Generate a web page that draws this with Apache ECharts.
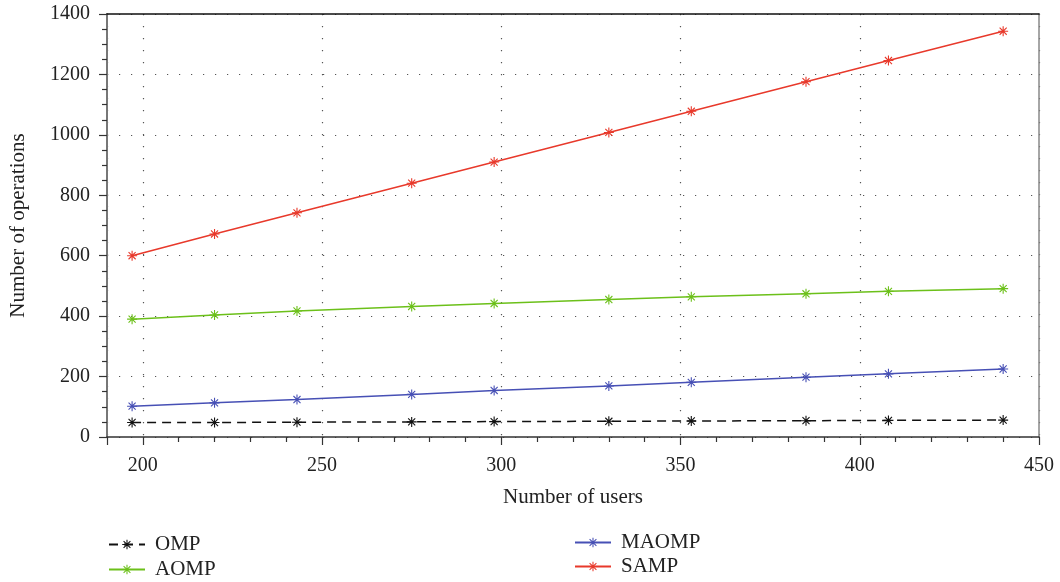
<!DOCTYPE html>
<html>
<head>
<meta charset="utf-8">
<script src="https://cdn.jsdelivr.net/npm/echarts@6/dist/echarts.min.js"></script>
<style>
  html, body { margin: 0; padding: 0; background: #fff; }
  #chart { width: 1060px; height: 582px; }
</style>
</head>
<body>
<div id="chart"></div>
<script>
// Number of users at each measurement
const users = [197, 220, 243, 275, 298, 330, 353, 385, 408, 440];

// Number of operations per algorithm
const ompOps   = [48, 48, 49, 50, 51, 52, 53, 54, 55, 56];
const aompOps  = [390, 404, 417, 432, 442, 455, 464, 474, 482, 491];
const maompOps = [102, 113, 124, 141, 154, 169, 181, 198, 209, 225];
const sampOps  = [600, 672, 742, 840, 910, 1008, 1078, 1176, 1246, 1343];

const seriesNames = ['OMP', 'AOMP', 'MAOMP', 'SAMP'];

// Eight-armed asterisk marker built from four rotated bars
function asteriskPath() {
  const c = 10, half = 10, t = 1.1;
  let d = '';
  for (let k = 0; k < 4; k++) {
    const a = k * Math.PI / 4;
    const ca = Math.cos(a), sa = Math.sin(a);
    const pts = [[-half, -t], [half, -t], [half, t], [-half, t]].map(([x, y]) =>
      [(c + x * ca - y * sa).toFixed(3), (c + x * sa + y * ca).toFixed(3)]);
    d += 'M' + pts.map(p => p.join(' ')).join(' L') + ' Z ';
  }
  return 'path://' + d.trim();
}
const star = asteriskPath();

const font = 'Liberation Serif, DejaVu Serif, serif';
const textColor = '#222';

function pairs(ys) { return users.map((x, i) => [x, ys[i]]); }

function lineSeries(name, ys, color, dashed) {
  return {
    name: name,
    type: 'line',
    data: pairs(ys),
    symbol: star,
    symbolSize: 10,
    showSymbol: true,
    itemStyle: { color: color },
    lineStyle: { color: color, width: 1.5, type: dashed ? [9, 6] : 'solid' },
    emphasis: { disabled: true },
    animation: false
  };
}

// One legend entry per block so the two columns stack exactly
function legendEntry(name, left, top) {
  return {
    data: [name],
    orient: 'vertical',
    left: left,
    top: top,
    itemWidth: 36,
    itemHeight: 12,
    textStyle: { fontFamily: font, fontSize: 21, color: textColor, padding: [0, 0, 0, 5] }
  };
}

const chart = echarts.init(document.getElementById('chart'), null, { renderer: 'canvas' });

const gridDots = { color: '#555', width: 1.2, type: [1.2, 10.8] };

chart.setOption({
  backgroundColor: '#fff',
  animation: false,
  grid: { left: 107, right: 21, top: 14, bottom: 145, containLabel: false },
  xAxis: [
    {
      type: 'value',
      min: 190,
      max: 450,
      splitNumber: 5,
      name: 'Number of users',
      nameLocation: 'middle',
      nameGap: 50,
      nameTextStyle: { fontFamily: font, fontSize: 21, color: textColor },
      axisLine: { show: true, onZero: false, lineStyle: { color: '#333', width: 1.5 } },
      axisTick: { show: true, inside: false, length: 8, lineStyle: { color: '#333', width: 1.2 } },
      minorTick: { show: true, splitNumber: 5, length: 5, lineStyle: { color: '#333', width: 1.2 } },
      axisLabel: { showMinLabel: false, margin: 19, fontFamily: font, fontSize: 20, color: textColor,
                   formatter: v => String(v) },
      splitLine: { show: true, lineStyle: gridDots }
    },
    {
      // top frame edge
      type: 'value', position: 'top', min: 190, max: 450,
      axisLine: { show: true, onZero: false, lineStyle: { color: '#111', width: 1.5 } },
      axisTick: { show: false }, axisLabel: { show: false }, splitLine: { show: false }
    }
  ],
  yAxis: [
    {
      type: 'value',
      min: 0,
      max: 1400,
      interval: 200,
      name: 'Number of operations',
      nameLocation: 'middle',
      nameGap: 78,
      nameTextStyle: { fontFamily: font, fontSize: 21, color: textColor },
      axisLine: { show: true, onZero: false, lineStyle: { color: '#777', width: 2 } },
      axisTick: { show: true, inside: false, length: 8, lineStyle: { color: '#333', width: 1.2 } },
      minorTick: { show: true, splitNumber: 4, length: 5, lineStyle: { color: '#333', width: 1.2 } },
      axisLabel: { margin: 17, fontFamily: font, fontSize: 20, color: textColor,
                   formatter: v => String(v) },
      splitLine: { show: true, lineStyle: gridDots }
    },
    {
      // right frame edge
      type: 'value', position: 'right', min: 0, max: 1400,
      axisLine: { show: true, onZero: false, lineStyle: { color: '#888', width: 1.5 } },
      axisTick: { show: false }, axisLabel: { show: false }, splitLine: { show: false }
    }
  ],
  legend: [
    legendEntry(seriesNames[0], 103, 529),
    legendEntry(seriesNames[1], 103, 554),
    legendEntry(seriesNames[2], 569, 527),
    legendEntry(seriesNames[3], 569, 551)
  ],
  series: [
    lineSeries(seriesNames[0], ompOps, '#111111', true),
    lineSeries(seriesNames[1], aompOps, '#6cc01a', false),
    lineSeries(seriesNames[2], maompOps, '#4750b5', false),
    lineSeries(seriesNames[3], sampOps, '#e8392b', false)
  ]
});
</script>
</body>
</html>
